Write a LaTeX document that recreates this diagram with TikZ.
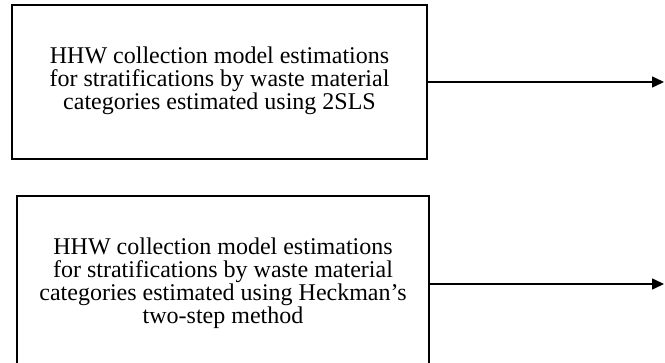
\documentclass[tikz,border=0pt]{standalone}
\usepackage{fontspec}
\setmainfont{Liberation Serif}
\usetikzlibrary{
  positioning,
  arrows.meta
}
\tikzset{
  >={Triangle[length=12pt,width=11pt]},
  every picture/.style={x=1pt,y=1pt},
  stratbox/.style={
    draw, line width=1.6pt, rectangle, inner sep=0pt
  },
  stratlabel/.style={
    align=center, font=\fontsize{24}{23}\selectfont
  },
  outarrow/.style={->, line width=1.6pt}
}
\begin{document}
\begin{tikzpicture}
\useasboundingbox (0,0) rectangle (665,-362);
\clip (0,0) rectangle (665,-362);
\node[stratbox, minimum width=415pt, minimum height=154pt] (tsls) at (219.5,-82) {};
\node[stratbox, minimum width=412pt, minimum height=174pt] (heckman) at (223,-283) {};
\node[stratlabel] (tslsText) at ([yshift=1pt]tsls.center) {HHW collection model estimations\\
  for stratifications by waste material\\
  categories estimated using 2SLS};
\node[stratlabel] (heckmanText) at (heckman.center) {HHW collection model estimations\\
  for stratifications by waste material\\
  categories estimated using Heckman’s\\
  two-step method};
\coordinate (tslsEnd) at (664,-82);
\coordinate (heckmanEnd) at (664,-284);
\draw[outarrow] (tsls.east) -- (tslsEnd);
\draw[outarrow] (heckman.east |- heckmanEnd) -- (heckmanEnd);
\end{tikzpicture}
\end{document}
